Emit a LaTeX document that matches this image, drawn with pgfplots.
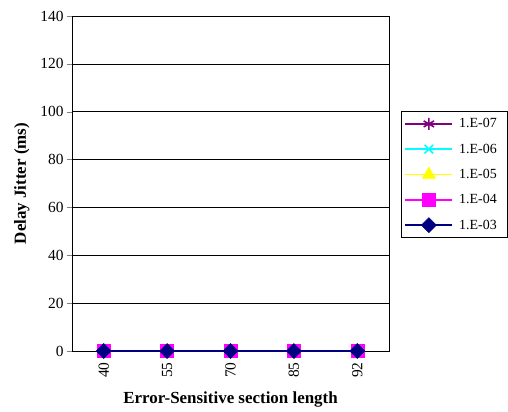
\documentclass[border=0pt]{standalone}
\usepackage{pgfplots}
\pgfplotsset{compat=1.18}
\usepackage{fontspec}
\setmainfont{Liberation Serif}
\definecolor{cpurple}{RGB}{128,0,128}
\definecolor{ccyan}{RGB}{0,255,255}
\definecolor{cyellow}{RGB}{255,255,0}
\definecolor{cmagenta}{RGB}{255,0,255}
\definecolor{cnavy}{RGB}{0,0,128}
\newcommand{\pad}{\rule{6bp}{0pt}}
\begin{document}
\begin{tikzpicture}[x=1bp,y=1bp]
\path[use as bounding box] (0,0) rectangle (508,411);
\begin{axis}[
  at={(72bp,60bp)}, anchor=south west,
  scale only axis, width=317bp, height=335bp,
  xmin=-0.5, xmax=4.5, ymin=0, ymax=140,
  xtick={0,1,2,3,4}, xticklabels={40,55,70,85,92},
  ytick={0,20,...,140},
  xtick style={draw=none},
  ytick pos=left, tick align=outside, major tick length=5bp,
  ymajorgrids, grid style={black, line width=0.6bp},
  axis line style={black, line width=0.8bp},
  xticklabel style={rotate=90, anchor=east, xshift=-3bp, font=\fontsize{15.5}{17}\selectfont},
  yticklabel style={font=\fontsize{15.5}{17}\selectfont},
  /pgf/number format/assume math mode=true,
  xlabel={\textbf{Error-Sensitive section length}},
  ylabel={\textbf{Delay Jitter (ms)}},
  xlabel style={at={(axis description cs:0.5,-0.146)}, anchor=center, font=\fontsize{17}{19}\selectfont},
  ylabel style={at={(axis description cs:-0.158,0.5)}, anchor=center, font=\fontsize{17}{19}\selectfont},
  clip=false,
  legend cell align=left,
  legend style={at={(axis description cs:1.038,0.716)}, anchor=north west, draw=black, line width=0.8bp,
    font=\fontsize{14}{16}\selectfont, row sep=10.5bp, inner xsep=3bp, inner ysep=5bp},
  legend image code/.code={\draw[mark repeat=2,mark phase=2] plot coordinates {(0bp,0bp)(23.5bp,0bp)(47bp,0bp)};\path (51bp,0bp);},
  every axis plot/.append style={line width=1.8bp},
]
\addplot[color=cpurple, mark=asterisk, mark size=6bp, mark options={line width=1.6bp}] coordinates {(0,0)(1,0)(2,0)(3,0)(4,0)};
\addlegendentry{1.E-07\pad}
\addplot[color=ccyan, mark=x, mark size=6bp, mark options={line width=1.6bp}] coordinates {(0,0)(1,0)(2,0)(3,0)(4,0)};
\addlegendentry{1.E-06\pad}
\addplot[color=cyellow, mark=triangle*, mark size=7.5bp, mark options={fill=cyellow, line width=0.5bp}] coordinates {(0,0)(1,0)(2,0)(3,0)(4,0)};
\addlegendentry{1.E-05\pad}
\addplot[color=cmagenta, mark=square*, mark size=6.5bp, mark options={fill=cmagenta, line width=0.5bp}] coordinates {(0,0)(1,0)(2,0)(3,0)(4,0)};
\addlegendentry{1.E-04\pad}
\addplot[color=cnavy, mark=square*, mark size=5.3bp, mark options={fill=cnavy, line width=0.5bp, rotate=45}] coordinates {(0,0)(1,0)(2,0)(3,0)(4,0)};
\addlegendentry{1.E-03\pad}
\end{axis}
\end{tikzpicture}
\end{document}
